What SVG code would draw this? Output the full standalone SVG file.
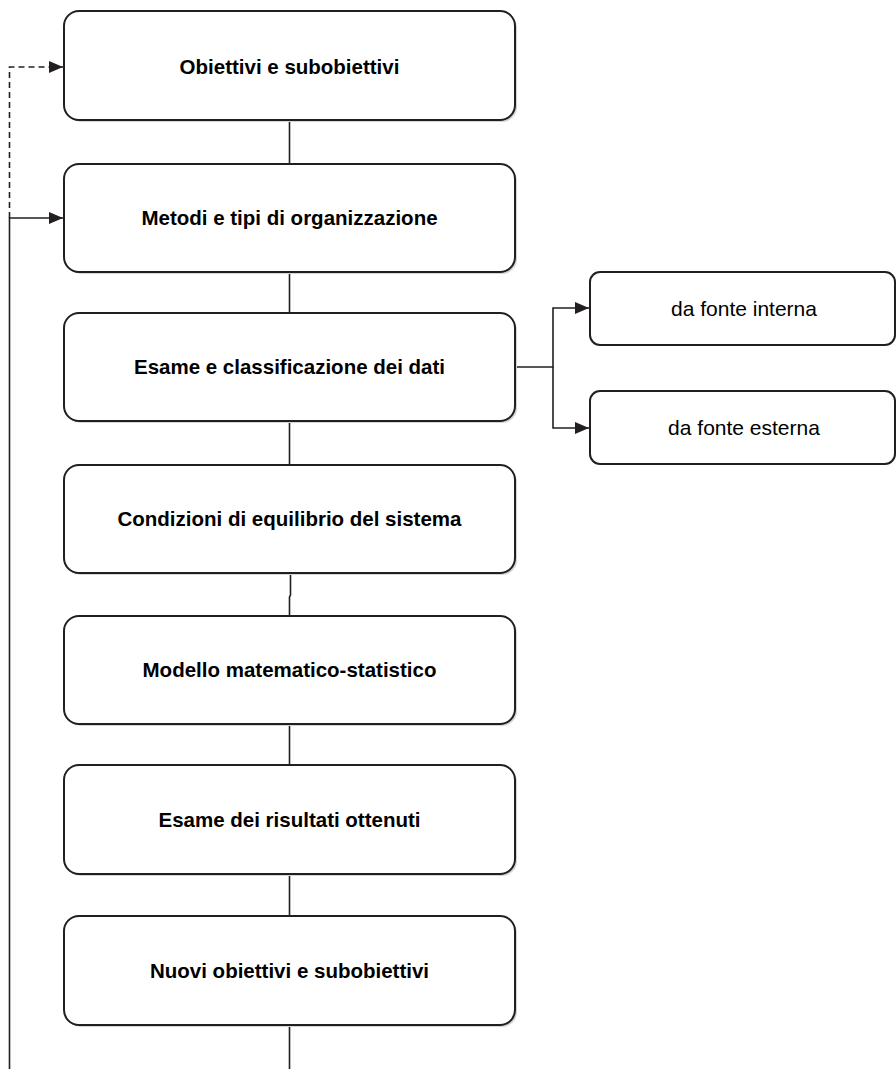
<svg xmlns="http://www.w3.org/2000/svg" width="896" height="1069" viewBox="0 0 896 1069">
<defs>
<style>
.box{fill:#fff;stroke:#231f20;stroke-width:2}
.sh{fill:#d4d4d4}
.t{font-family:"Liberation Sans",Arial,sans-serif;font-weight:bold;font-size:20.5px;fill:#000;text-anchor:middle}
.s{font-family:"Liberation Sans",Arial,sans-serif;font-size:21px;fill:#000;text-anchor:middle}
.c{fill:none;stroke:#231f20;stroke-width:1.6}
</style>
<marker id="a" markerWidth="14" markerHeight="12" refX="14" refY="6" orient="auto" markerUnits="userSpaceOnUse" viewBox="0 0 14 12">
<path d="M0,0 L14,6 L0,12 Z" fill="#231f20"/>
</marker>
</defs>
<g id="connectors">
<line class="c" x1="289.5" y1="120" x2="289.5" y2="164"/>
<line class="c" x1="289.5" y1="272" x2="289.5" y2="313"/>
<line class="c" x1="289.5" y1="421" x2="289.5" y2="465"/>
<path class="c" d="M290.5,573 V595 L289.5,597 V616"/>
<line class="c" x1="289.5" y1="724" x2="289.5" y2="765"/>
<line class="c" x1="289.5" y1="874" x2="289.5" y2="916"/>
<line class="c" x1="289.5" y1="1025" x2="289.5" y2="1069"/>
<path class="c" d="M515,367 H553 V308 H589" marker-end="url(#a)"/>
<path class="c" d="M553,367 V428 H589" marker-end="url(#a)"/>
<path class="c" d="M9.5,1069 V218 H63" marker-end="url(#a)"/>
<path class="c" d="M9.5,218 V67 H63" stroke-dasharray="6,4" marker-end="url(#a)"/>
</g>
<g id="n1"><rect class="sh" x="66" y="13" width="451" height="109" rx="15"/><rect class="box" x="64" y="11" width="451" height="109" rx="15"/><text class="t" x="289.5" y="74">Obiettivi e subobiettivi</text></g>
<g id="n2"><rect class="sh" x="66" y="166" width="451" height="108" rx="15"/><rect class="box" x="64" y="164" width="451" height="108" rx="15"/><text class="t" x="289.5" y="225">Metodi e tipi di organizzazione</text></g>
<g id="n3"><rect class="sh" x="66" y="315" width="451" height="108" rx="15"/><rect class="box" x="64" y="313" width="451" height="108" rx="15"/><text class="t" x="289.5" y="374">Esame e classificazione dei dati</text></g>
<g id="n4"><rect class="sh" x="66" y="467" width="451" height="108" rx="15"/><rect class="box" x="64" y="465" width="451" height="108" rx="15"/><text class="t" x="289.5" y="526">Condizioni di equilibrio del sistema</text></g>
<g id="n5"><rect class="sh" x="66" y="618" width="451" height="108" rx="15"/><rect class="box" x="64" y="616" width="451" height="108" rx="15"/><text class="t" x="289.5" y="677">Modello matematico-statistico</text></g>
<g id="n6"><rect class="sh" x="66" y="767" width="451" height="109" rx="15"/><rect class="box" x="64" y="765" width="451" height="109" rx="15"/><text class="t" x="289.5" y="827">Esame dei risultati ottenuti</text></g>
<g id="n7"><rect class="sh" x="66" y="918" width="451" height="109" rx="15"/><rect class="box" x="64" y="916" width="451" height="109" rx="15"/><text class="t" x="289.5" y="978">Nuovi obiettivi e subobiettivi</text></g>
<g id="n8"><rect class="box" x="590" y="272" width="305" height="73" rx="10"/><text class="s" x="744" y="316">da fonte interna</text></g>
<g id="n9"><rect class="box" x="590" y="391" width="305" height="73" rx="10"/><text class="s" x="744" y="435">da fonte esterna</text></g>
</svg>
